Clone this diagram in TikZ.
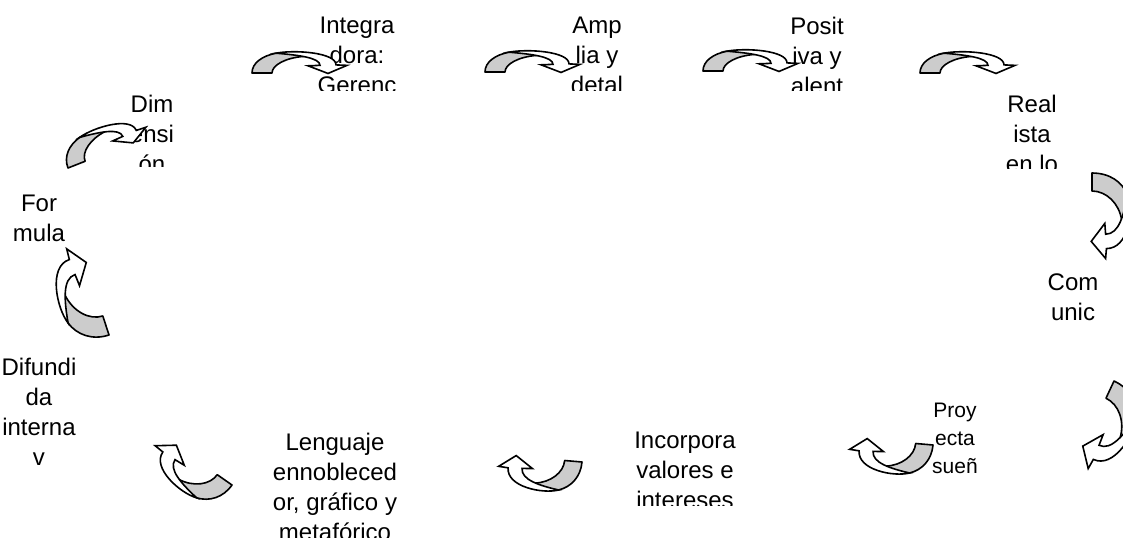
\documentclass[tikz,border=0pt]{standalone}
\usepackage{fontspec}
\setmainfont{Liberation Sans}

\tikzset{
  backpart/.style={fill=black!20,draw=black,line width=0.8pt,line join=round},
  frontpart/.style={fill=white,draw=black,line width=0.8pt,line join=miter},
  boxtext/.style={anchor=north,inner sep=0pt,align=center,font=\fontsize{12}{15}\selectfont},
  smalltext/.style={anchor=north,inner sep=0pt,align=center,font=\fontsize{10.5}{14}\selectfont},
}

% one bent arrow, foot at the origin, head to the right
\newcommand{\bentarrow}[1]{%
  \begin{scope}[#1]
    \filldraw[backpart] (0,0) .. controls (0,-22) and (10,-38) .. (24,-44) -- (44,-46) -- (52,-37) .. controls (34,-34) and (20,-18) .. (20,0) -- cycle;
    \filldraw[frontpart] (24,-44) .. controls (42,-52) and (84,-46) .. (84,-18) -- (95,-17) -- (76,1) -- (56,-16) -- (68,-17) .. controls (68,-34) and (46,-40) .. (24,-44) -- cycle;
  \end{scope}}

\begin{document}
\begin{tikzpicture}[x=0.5pt,y=-0.5pt]
\useasboundingbox (0,0) rectangle (1123,542);
\clip (0,0) rectangle (1123,542);

% texts
\begin{scope}
\clip (300,0) rectangle (420,90);
\node[boxtext] (integ) at (357,17) {Integra\\dora:\\Gerenc};
\end{scope}
\begin{scope}
\clip (550,0) rectangle (650,90);
\node[boxtext] (ampl) at (597,17) {Amp\\lia y\\detal};
\end{scope}
\begin{scope}
\clip (770,0) rectangle (870,90);
\node[boxtext] (posit) at (817,17) {Posit\\iva y\\alent};
\end{scope}
\begin{scope}
\clip (990,80) rectangle (1080,168);
\node[boxtext] (real) at (1032,95) {Real\\ista\\en lo};
\end{scope}
\node[boxtext] (comun) at (1073,273) {Com\\unic};
\node[smalltext] (proy) at (955,403) {Proy\\ecta\\sueñ};
\begin{scope}
\clip (620,420) rectangle (750,505);
\node[boxtext] (incorp) at (685,432) {Incorpora\\valores e\\intereses};
\end{scope}
\begin{scope}
\clip (260,420) rectangle (410,537);
\node[boxtext] (lengua) at (335,433) {Lenguaje\\ennobleced\\or, gráfico y\\metafórico};
\end{scope}
\begin{scope}
\clip (0,340) rectangle (80,470);
\node[boxtext] (difun) at (39,358) {Difundi\\da\\interna\\v};
\end{scope}
\begin{scope}
\clip (120,80) rectangle (185,166);
\node[boxtext] (dimen) at (152,95) {Dim\\ensi\\ón};
\end{scope}
\node[boxtext] (formu) at (39,195) {For\\mula};

% arrows
\bentarrow{shift={(252,73)},yscale=0.45}
\bentarrow{shift={(485,72)},yscale=0.45}
\bentarrow{shift={(703,71)},yscale=0.45}
\bentarrow{shift={(920,73)},yscale=0.45}
\bentarrow{shift={(1092,173)},rotate=-90,xscale=0.9,yscale=0.8}
\bentarrow{shift={(1114,381)},rotate=-115,xscale=0.95,yscale=0.8}
\bentarrow{shift={(933,445)},rotate=175,xscale=0.87,yscale=0.68}
\bentarrow{shift={(582,462)},rotate=175,xscale=0.87,yscale=0.68}
\bentarrow{shift={(232,485)},rotate=145,xscale=0.9,yscale=0.7}
\bentarrow{shift={(109,335)},rotate=108,xscale=1.0,yscale=0.8}
\bentarrow{shift={(68,168)},rotate=21.5,xscale=0.92,yscale=0.55}
\end{tikzpicture}
\end{document}
